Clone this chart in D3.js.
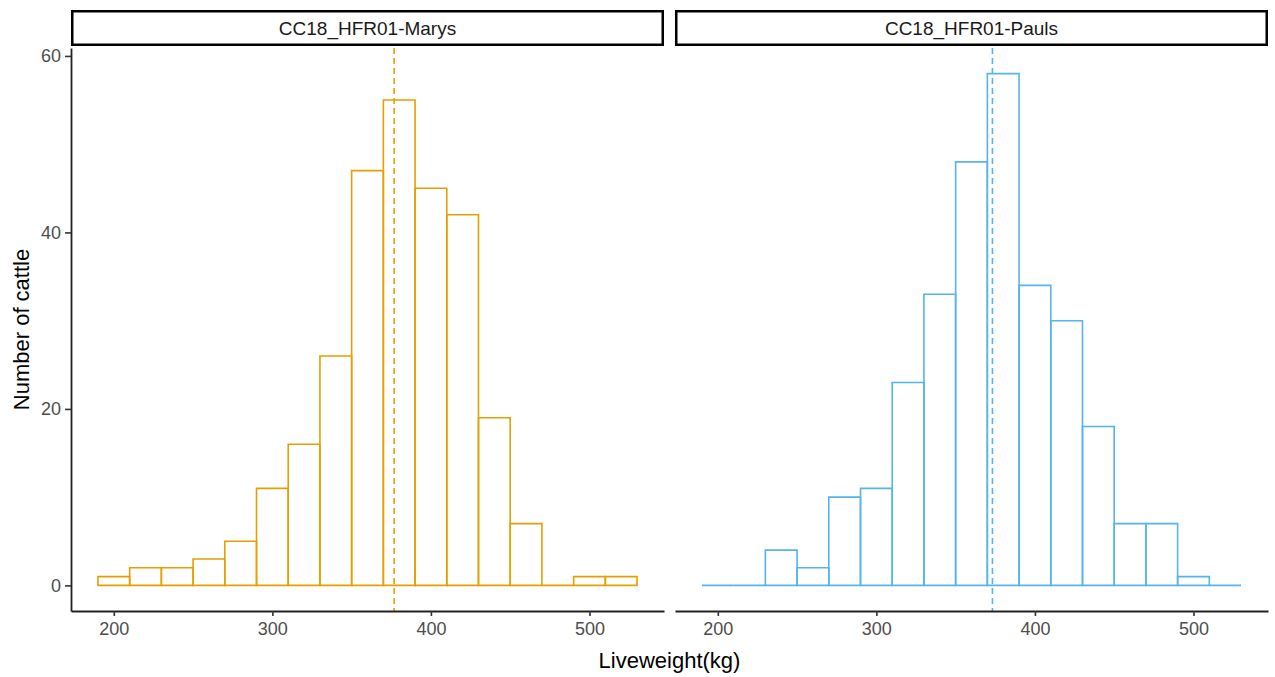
<!DOCTYPE html>
<html>
<head>
<meta charset="utf-8">
<script src="https://cdn.jsdelivr.net/npm/d3@7"></script>
<style>
  html, body { margin: 0; padding: 0; background: #fff; }
  svg { display: block; font-family: "Liberation Sans", Arial, sans-serif; }
</style>
</head>
<body>
<svg id="chart" width="1275" height="677"></svg>
<script>
// Histogram bins: 20 kg wide, edges 190..530
const binStarts = [190, 210, 230, 250, 270, 290, 310, 330, 350, 370, 390, 410, 430, 450, 470, 490, 510];
const binWidth = 20;

// Herd names (facet strips)
const herds = ["CC18_HFR01-Marys", "CC18_HFR01-Pauls"];

// Counts per bin
const countsMarys = [1, 2, 2, 3, 5, 11, 16, 26, 47, 55, 45, 42, 19, 7, 0, 1, 1];
const countsPauls = [0, 0, 4, 2, 10, 11, 23, 33, 48, 58, 34, 30, 18, 7, 7, 1, 0];

// Mean liveweight per herd (dashed reference line)
const meanWeights = [376.8, 373.2];

const herdColours = ["#E69F00", "#56B4E9"];

const xTicks = [200, 300, 400, 500];
const yTicks = [0, 20, 40, 60];

const xTitle = "Liveweight(kg)";
const yTitle = "Number of cattle";

const svg = d3.select("#chart");

const panelTop = 48, panelBottom = 611;
const panels = [
  { x0: 71, x1: 664 },
  { x0: 675, x1: 1268 }
];
const stripTop = 10, stripBottom = 46;

const y = d3.scaleLinear().domain([-2.9, 60.9]).range([panelBottom, panelTop]);

const seriesCounts = [countsMarys, countsPauls];

panels.forEach((p, i) => {
  const x = d3.scaleLinear().domain([173, 547]).range([p.x0, p.x1]);
  const g = svg.append("g");

  const bins = binStarts.map((s, k) => ({ x0: s, x1: s + binWidth, n: seriesCounts[i][k] }));

  // histogram bars as closed outlines (empty bins collapse to a flat line)
  g.selectAll("path.bar")
    .data(bins)
    .join("path")
    .attr("class", "bar")
    .attr("d", d => {
      const pth = d3.path();
      pth.moveTo(x(d.x0), y(0));
      pth.lineTo(x(d.x0), y(d.n));
      pth.lineTo(x(d.x1), y(d.n));
      pth.lineTo(x(d.x1), y(0));
      pth.closePath();
      return pth.toString();
    })
    .attr("fill", "none")
    .attr("stroke", herdColours[i])
    .attr("stroke-width", 1.6)
    .attr("stroke-linejoin", "miter");

  // mean line
  g.append("line")
    .attr("x1", x(meanWeights[i])).attr("x2", x(meanWeights[i]))
    .attr("y1", panelTop).attr("y2", panelBottom)
    .attr("stroke", herdColours[i])
    .attr("stroke-width", 1.6)
    .attr("stroke-dasharray", "6,4");

  // x axis
  const xAxis = g.append("g")
    .attr("transform", `translate(0,${panelBottom})`)
    .call(d3.axisBottom(x).tickValues(xTicks).tickSize(5).tickPadding(6).tickSizeOuter(0));
  xAxis.select(".domain").attr("stroke", "#222").attr("stroke-width", 1.8);
  xAxis.selectAll(".tick line").attr("stroke", "#333").attr("stroke-width", 1.6);
  xAxis.selectAll(".tick text").attr("fill", "#4D4D4D").style("font-size", "18px");

  // y axis only on the first facet
  if (i === 0) {
    const yAxis = g.append("g")
      .attr("transform", `translate(${p.x0},0)`)
      .call(d3.axisLeft(y).tickValues(yTicks).tickSize(6).tickPadding(4).tickSizeOuter(0));
    yAxis.select(".domain").attr("stroke", "#222").attr("stroke-width", 1.8);
    yAxis.selectAll(".tick line").attr("stroke", "#333").attr("stroke-width", 1.6);
    yAxis.selectAll(".tick text").attr("fill", "#4D4D4D").style("font-size", "18px");
  }

  // facet strip
  g.append("rect")
    .attr("x", p.x0 + 1.25).attr("y", stripTop + 1.25)
    .attr("width", p.x1 - p.x0 - 2.5).attr("height", stripBottom - stripTop - 2.5)
    .attr("fill", "#fff").attr("stroke", "#000").attr("stroke-width", 2.5);
  g.append("text")
    .attr("x", (p.x0 + p.x1) / 2).attr("y", (stripTop + stripBottom) / 2)
    .attr("text-anchor", "middle").attr("dominant-baseline", "central")
    .attr("fill", "#1A1A1A").style("font-size", "19px")
    .text(herds[i]);
});

// axis titles
svg.append("text")
  .attr("x", (panels[0].x0 + panels[1].x1) / 2).attr("y", 668)
  .attr("text-anchor", "middle").style("font-size", "22px").attr("fill", "#000")
  .text(xTitle);

svg.append("text")
  .attr("transform", `translate(29,${(panelTop + panelBottom) / 2}) rotate(-90)`)
  .attr("text-anchor", "middle").style("font-size", "22px").attr("fill", "#000")
  .text(yTitle);
</script>
</body>
</html>
